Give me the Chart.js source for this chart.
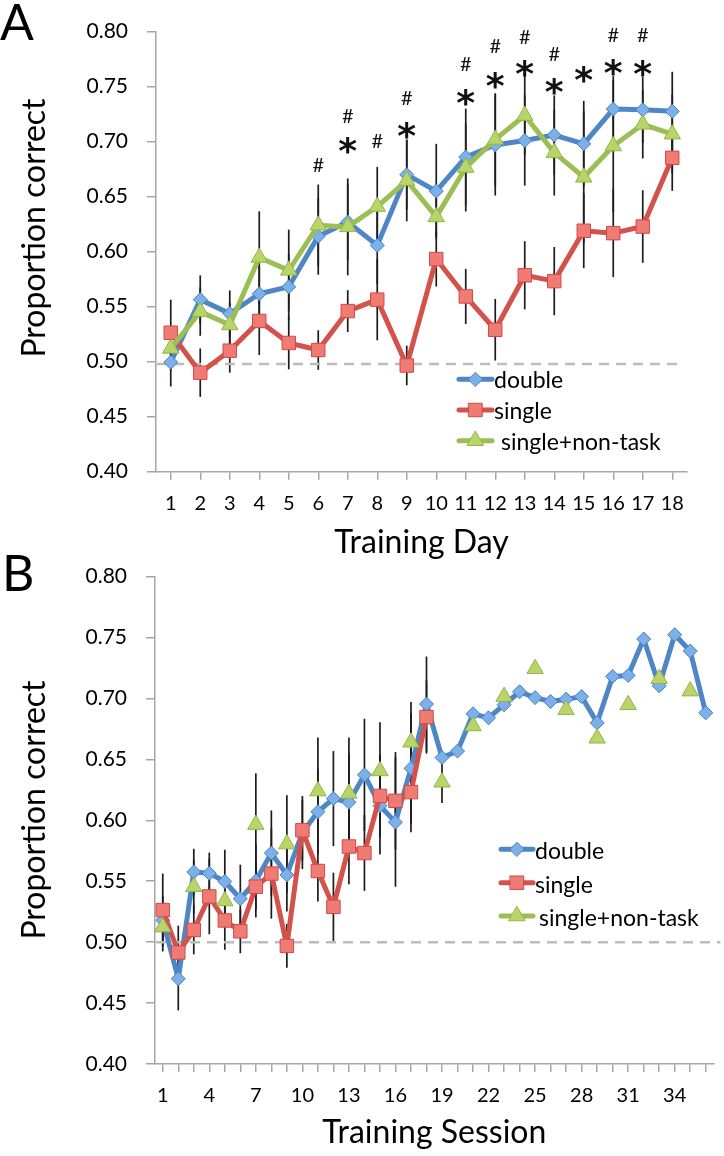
<!DOCTYPE html>
<html><head><meta charset="utf-8">
<script src="https://cdn.jsdelivr.net/npm/chart.js@4/dist/chart.umd.min.js"></script>
<style>
html,body{margin:0;padding:0;background:#fff;}
body{width:724px;height:1156px;position:relative;overflow:hidden;}
#wa{position:absolute;left:0;top:0;width:724px;height:575px;}
#wb{position:absolute;left:0;top:545px;width:724px;height:611px;}
canvas{display:block;}
</style></head><body>
<div id="wa"><canvas id="ca" width="724" height="575"></canvas></div>
<div id="wb"><canvas id="cb" width="724" height="611"></canvas></div>
<script>
// ---------- Panel A data (by training day) ----------
const days = ['1','2','3','4','5','6','7','8','9','10','11','12','13','14','15','16','17','18'];
const doubleA  = [0.4995,0.5564,0.5437,0.5617,0.568,0.614,0.627,0.6057,0.670,0.655,0.686,0.697,0.701,0.706,0.698,0.7296,0.729,0.7275];
const singleA  = [0.5263,0.490,0.510,0.537,0.517,0.5106,0.546,0.5564,0.4965,0.5933,0.5593,0.529,0.5785,0.5732,0.619,0.6168,0.6228,0.6853];
const nonTaskA = [0.512,0.5455,0.5334,0.5947,0.583,0.624,0.6225,0.641,0.6646,0.6316,0.6765,0.702,0.7237,0.690,0.6676,0.696,0.7157,0.7068];
const errDoubleA  = [0.022,0.022,0.021,0.025,0.03,0.035,0.035,0.035,0.032,0.043,0.044,0.046,0.041,0.036,0.039,0.03,0.03,0.036];
const errSingleA  = [0.03,0.022,0.02,0.031,0.024,0.018,0.019,0.037,0.018,0.025,0.025,0.028,0.031,0.031,0.034,0.04,0.033,0.03];
const errNonTaskA = [0.02,0.022,0.02,0.042,0.037,0.037,0.044,0.036,0.037,0.018,0.04,0.042,0.036,0.039,0.06,0.06,0.031,0.036];
// significance markers: value level at which each symbol is shown
const starA = [null,null,null,null,null,null,0.6965,null,0.7098,null,0.7402,0.7555,0.7667,0.7501,0.7614,0.7672,0.7667,null];
const hashA = [null,null,null,null,null,0.6788,0.7236,0.7009,0.7393,null,0.7703,0.7865,0.7953,0.7796,null,0.7968,0.7968,null];
const chanceA = 0.498;

// ---------- Panel B data (by training session) ----------
const sessions = ['1','2','3','4','5','6','7','8','9','10','11','12','13','14','15','16','17','18','19','20','21','22','23','24','25','26','27','28','29','30','31','32','33','34','35','36'];
const doubleB = [0.518,0.470,0.5576,0.5565,0.5498,0.5356,0.5503,0.5731,0.5552,0.590,0.607,0.6178,0.6148,0.6373,0.612,0.5985,0.6426,0.6954,0.6515,0.6568,0.6874,0.6841,0.6948,0.7055,0.7007,0.6975,0.6994,0.7015,0.680,0.7181,0.7189,0.7488,0.7104,0.7523,0.7389,0.6882];
const singleB = [0.5263,0.4915,0.510,0.5375,0.5178,0.5089,0.5455,0.5563,0.4969,0.5918,0.5584,0.529,0.5785,0.5731,0.620,0.616,0.6231,0.6847];
const nonTaskB = [0.5124,null,0.5455,null,0.5338,null,0.5965,null,0.5805,null,0.624,null,0.622,null,0.6405,null,0.664,null,0.6312,null,0.6774,null,0.7015,null,0.7243,null,0.6908,null,0.6673,null,0.6948,null,0.7162,null,0.706,null];
const errDoubleB = [0.02,0.026,0.019,0.017,0.026,0.028,0.03,0.035,0.03,0.03,0.035,0.039,0.04,0.046,0.04,0.053,0.045,0.039];
const errSingleB = [0.03,0.022,0.02,0.031,0.024,0.018,0.019,0.037,0.018,0.025,0.025,0.028,0.031,0.031,0.034,0.04,0.033,0.03];
const errNonTaskB = [0.02,null,0.022,null,0.02,null,0.042,null,0.04,null,0.044,null,0.046,null,0.04,null,0.033,null,0.017];
const chanceB = 0.5;

const seriesNames = ['double','single','single+non-task'];

// ---------- styles ----------
const FONT = 'Lato';
const sty = {
  double:  {line:'#4f86c6', fill:'#7cb0e8', edge:'#4a80c0', shape:'rectRot', r:7},
  single:  {line:'#d4524c', fill:'#ef7b74', edge:'#cc4c47', shape:'rect', r:9.5},
  nontask: {line:'#9cbf55', fill:'#b9d56a', edge:'#94b44c', shape:'triangle', r:9.5}
};
function ds(label, data, s, order, showLine){
  return {label, data, order, showLine: showLine !== false,
    borderColor:s.line, borderWidth:5, borderJoinStyle:'round', borderCapStyle:'round',
    pointStyle:s.shape, pointRadius:s.r, pointHoverRadius:s.r,
    pointBackgroundColor:s.fill, pointBorderColor:s.edge, pointBorderWidth:1,
    tension:0, fill:false, spanGaps:false};
}

// ---------- plugins ----------
const errorBarPlugin = {
  id:'errorBars',
  beforeDatasetsDraw(chart, args, opts){
    const ctx = chart.ctx, ys = chart.scales.y;
    ctx.save();
    ctx.strokeStyle = '#1c1c1c'; ctx.lineWidth = 1.7;
    (opts.sets||[]).forEach(s=>{
      const meta = chart.getDatasetMeta(s.dataset);
      const vals = chart.data.datasets[s.dataset].data;
      s.err.forEach((e,j)=>{
        if(e==null || vals[j]==null) return;
        const pt = meta.data[j]; if(!pt) return;
        ctx.beginPath();
        ctx.moveTo(pt.x, ys.getPixelForValue(vals[j]+e));
        ctx.lineTo(pt.x, ys.getPixelForValue(vals[j]-e));
        ctx.stroke();
      });
    });
    ctx.restore();
  }
};
const refLinePlugin = {
  id:'refLine',
  beforeDatasetsDraw(chart, args, opts){
    const ctx = chart.ctx, ys = chart.scales.y, a = chart.chartArea;
    const y = ys.getPixelForValue(opts.value);
    ctx.save();
    ctx.strokeStyle = '#bdbdbd'; ctx.lineWidth = 2.5; ctx.setLineDash([10,7]);
    ctx.beginPath(); ctx.moveTo(a.left+1, y); ctx.lineTo(a.right + opts.extra, y); ctx.stroke();
    ctx.restore();
  }
};
function centerText(ctx, txt, x, y){
  const m = ctx.measureText(txt);
  const asc = m.actualBoundingBoxAscent, desc = m.actualBoundingBoxDescent;
  ctx.fillText(txt, x, y + (asc - desc)/2);
}
const sigPlugin = {
  id:'sig',
  afterDatasetsDraw(chart, args, opts){
    if(!opts.star) return;
    const ctx = chart.ctx, ys = chart.scales.y, xs = chart.scales.x;
    ctx.save();
    ctx.fillStyle = '#111'; ctx.textAlign = 'center'; ctx.textBaseline = 'alphabetic';
    opts.star.forEach((v,j)=>{
      if(v==null) return;
      ctx.font = 'bold 36px "DejaVu Sans"';
      centerText(ctx, '*', xs.getPixelForValue(j), ys.getPixelForValue(v));
    });
    opts.hash.forEach((v,j)=>{
      if(v==null) return;
      ctx.font = '20px ' + FONT;
      centerText(ctx, '#', xs.getPixelForValue(j), ys.getPixelForValue(v));
    });
    ctx.restore();
  }
};
const decorPlugin = {
  id:'decor',
  afterDraw(chart, args, opts){
    const ctx = chart.ctx;
    ctx.save();
    // panel letter
    ctx.fillStyle = '#000';
    ctx.font = '50px ' + FONT; ctx.textAlign = 'left'; ctx.textBaseline = 'alphabetic';
    ctx.fillText(opts.letter, opts.letterX, opts.letterY);
    // y-axis title
    ctx.save();
    ctx.translate(opts.yTitleX, opts.yTitleY);
    ctx.rotate(-Math.PI/2);
    ctx.font = '32px ' + FONT; ctx.textAlign = 'center';
    ctx.fillText(opts.yTitle, 0, 0);
    ctx.restore();
    // legend
    const L = opts.legend;
    const keys = ['double','single','nontask'];
    keys.forEach((k,i)=>{
      const s = sty[k], y = L.rows[i];
      ctx.strokeStyle = s.line; ctx.lineWidth = 5; ctx.lineCap = 'round';
      ctx.beginPath(); ctx.moveTo(L.x1, y); ctx.lineTo(L.x2, y); ctx.stroke();
      ctx.fillStyle = s.fill; ctx.strokeStyle = s.edge; ctx.lineWidth = 1;
      Chart.helpers.drawPoint(ctx, {pointStyle:s.shape, radius:s.r, rotation:0, borderWidth:1}, (L.x1+L.x2)/2, y);
      ctx.fillStyle = '#000'; ctx.font = '23px ' + FONT; ctx.textAlign='left';
      ctx.fillText(seriesNames[i], L.tx[i], y + L.dy);
    });
    ctx.restore();
  }
};

// ---------- Chart A ----------
new Chart(document.getElementById('ca'), {
  type:'line',
  data:{labels:days, datasets:[
    ds('double', doubleA, sty.double, 3),
    ds('single', singleA, sty.single, 2),
    ds('single+non-task', nonTaskA, sty.nontask, 1)
  ]},
  plugins:[errorBarPlugin, refLinePlugin, sigPlugin, decorPlugin],
  options:{
    responsive:false, animation:false, devicePixelRatio:1,
    layout:{padding:{top:19.5, right:37, left:0, bottom:0}},
    plugins:{
      legend:{display:false}, tooltip:{enabled:false},
      errorBars:{sets:[{dataset:0, err:errDoubleA},{dataset:1, err:errSingleA},{dataset:2, err:errNonTaskA}]},
      refLine:{value:chanceA, extra:-7},
      sig:{star:starA, hash:hashA},
      decor:{letter:'A', letterX:0, letterY:40, yTitle:'Proportion correct', yTitleX:45, yTitleY:228,
        legend:{x1:459, x2:492, rows:[379.3,410,440.7], tx:[494,494,501], dy:9}}
    },
    scales:{
      x:{type:'category', offset:true,
        grid:{display:true, drawOnChartArea:false, drawTicks:true, tickLength:8, offset:false, color:'#a6a6a6', lineWidth:1.5},
        border:{display:true, color:'#a6a6a6', width:1.5},
        ticks:{font:{family:FONT, size:20}, color:'#000', padding:12, maxRotation:0, autoSkip:false},
        title:{display:true, text:'Training Day', font:{family:FONT, size:32}, color:'#000', padding:{top:0, bottom:13}},
        afterFit(s){ s.height = 103.3; }
      },
      y:{min:0.4, max:0.8,
        grid:{display:true, drawOnChartArea:false, drawTicks:true, tickLength:9, color:'#a6a6a6', lineWidth:1.5},
        border:{display:true, color:'#a6a6a6', width:1.5},
        ticks:{stepSize:0.05, callback:v=>Number(v).toFixed(2), font:{family:FONT, size:21}, color:'#000', padding:19},
        afterFit(s){ s.width = 156; }
      }
    }
  }
});

// ---------- Chart B ----------
new Chart(document.getElementById('cb'), {
  type:'line',
  data:{labels:sessions, datasets:[
    ds('double', doubleB, sty.double, 3),
    ds('single', singleB, sty.single, 2),
    ds('single+non-task', nonTaskB, sty.nontask, 1, false)
  ]},
  plugins:[errorBarPlugin, refLinePlugin, decorPlugin],
  options:{
    responsive:false, animation:false, devicePixelRatio:1,
    layout:{padding:{top:20.7, right:9, left:0, bottom:0}},
    plugins:{
      legend:{display:false}, tooltip:{enabled:false},
      errorBars:{sets:[{dataset:0, err:errDoubleB},{dataset:1, err:errSingleB},{dataset:2, err:errNonTaskB}]},
      refLine:{value:chanceB, extra:7},
      decor:{letter:'B', letterX:2, letterY:46, yTitle:'Proportion correct', yTitleX:45, yTitleY:265,
        legend:{x1:501, x2:533, rows:[304.3,337.7,371], tx:[535,535,539], dy:10}}
    },
    scales:{
      x:{type:'category', offset:true,
        grid:{display:true, drawOnChartArea:false, drawTicks:true, tickLength:8, offset:false, color:'#a6a6a6', lineWidth:1.5},
        border:{display:true, color:'#a6a6a6', width:1.5},
        ticks:{font:{family:FONT, size:20}, color:'#000', padding:12, maxRotation:0, autoSkip:false,
          callback:(v,i)=> (i % 3 === 0 ? sessions[i] : '')},
        title:{display:true, text:'Training Session', font:{family:FONT, size:32}, color:'#000', padding:{top:0, bottom:4}},
        afterFit(s){ s.height = 92; }
      },
      y:{min:0.4, max:0.8,
        grid:{display:true, drawOnChartArea:false, drawTicks:true, tickLength:9, color:'#a6a6a6', lineWidth:1.5},
        border:{display:true, color:'#a6a6a6', width:1.5},
        ticks:{stepSize:0.05, callback:v=>Number(v).toFixed(2), font:{family:FONT, size:21}, color:'#000', padding:19},
        afterFit(s){ s.width = 155; }
      }
    }
  }
});
</script></body></html>
